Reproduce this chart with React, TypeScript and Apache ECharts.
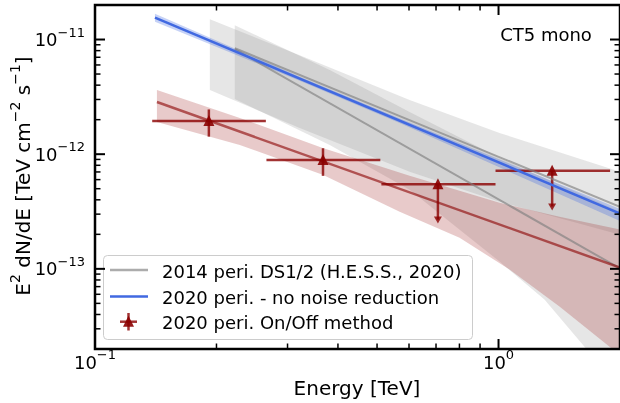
import React, { useEffect, useRef } from "react";
import * as echarts from "echarts";

const FONT = "DejaVu Sans";

// Axis ranges (TeV, TeV cm^-2 s^-1)
const xRange = [0.1, 2.0];
const yRange = [2e-14, 2e-11];

// Tick values
const xMajorTicks = [0.1, 1];
const xMinorTicks = [0.2, 0.3, 0.4, 0.5, 0.6, 0.7, 0.8, 0.9];
const yMajorTicks = [1e-13, 1e-12, 1e-11];
const yMinorTicks = [
  3e-14, 4e-14, 5e-14, 6e-14, 7e-14, 8e-14, 9e-14,
  2e-13, 3e-13, 4e-13, 5e-13, 6e-13, 7e-13, 8e-13, 9e-13,
  2e-12, 3e-12, 4e-12, 5e-12, 6e-12, 7e-12, 8e-12, 9e-12,
];

// Legend / text
const legendLabels = [
  "2014 peri. DS1/2 (H.E.S.S., 2020)",
  "2020 peri. - no noise reduction",
  "2020 peri. On/Off method",
];
const titleText = "CT5 mono";
const xName = "Energy [TeV]";

// 2014 band A (starts ~0.19 TeV)
const bandA_upE = [0.1926, 0.3216, 0.6021, 1.0058, 2.0];
const bandA_upF = [1.5e-11, 7.3e-12, 2.97e-12, 1.532e-12, 7.02e-13];
const bandA_loE = [0.1926, 0.3216, 0.6021, 1.0058, 2.0];
const bandA_loF = [3.62e-12, 1.693e-12, 7.02e-13, 3.85e-13, 1.987e-13];

// 2014 band B (starts ~0.22 TeV)
const bandB_upE = [0.222, 0.3817, 0.6021, 1.0058, 2.0];
const bandB_upF = [1.331e-11, 5.41e-12, 2.334e-12, 9.29e-13, 3.149e-13];
const bandB_loE = [0.222, 0.3817, 0.6021, 1.0058, 1.2997, 1.651, 2.0];
const bandB_loF = [3.03e-12, 1.205e-12, 4.89e-13, 1.157e-13, 5.41e-14, 2.0e-14, 2.0e-14];

// 2014 lines
const ds1E = [0.222, 2.0];
const ds1F = [8.4e-12, 3.48e-13];
const ds2E = [0.222, 2.0];
const ds2F = [8.24e-12, 1.007e-13];

// 2020 no noise reduction
const blueE = [0.1408, 2.0];
const blueF = [1.55e-11, 3.04e-13];
const blueBandE = [0.1408, 0.3216, 0.5689, 2.0];
const blueBandUpF = [1.676e-11, 4.74e-12, 2.048e-12, 3.33e-13];
const blueBandLoF = [1.428e-11, 4.375e-12, 1.872e-12, 2.61e-13];

// 2020 On/Off fit
const redE = [0.1424, 2.0];
const redF = [2.85e-12, 1.026e-13];
const redBand_upE = [0.1424, 0.2285, 0.3667, 0.6021, 1.0058, 1.4158, 2.0];
const redBand_upF = [3.62e-12, 2.07e-12, 1.134e-12, 6.47e-13, 3.77e-13, 2.85e-13, 2.2e-13];
const redBand_loE = [0.1424, 0.2285, 0.3667, 0.5689, 0.8007, 1.0646, 1.4158, 1.915, 2.0];
const redBand_loF = [1.91e-12, 1.205e-12, 6.61e-13, 3.149e-13, 1.87e-13, 9.86e-14, 4.7e-14, 2.0e-14, 2.0e-14];

// 2020 On/Off flux points
const ptE = [0.1915, 0.3673];
const ptElo = [0.1386, 0.266];
const ptEhi = [0.2651, 0.5095];
const ptF = [1.948e-12, 8.91e-13];
const ptFlo = [1.422e-12, 6.47e-13];
const ptFhi = [2.457e-12, 1.127e-12];

// 2020 On/Off upper limits
const ulE = [0.7076, 1.358];
const ulElo = [0.5125, 0.983];
const ulEhi = [0.983, 1.89];
const ulF = [5.48e-13, 7.16e-13];
const ulTip = [2.48e-13, 3.23e-13];

const GRAY_BAND = "rgba(128,128,128,0.2)";
const GRAY_LINE = "rgba(128,128,128,0.65)";
const BLUE = "#4169e1";
const BLUE_BAND = "rgba(65,105,225,0.3)";
const RED_BAND = "rgba(165,42,42,0.25)";
const RED_LINE = "rgba(139,0,0,0.6)";
const ERR = "rgba(139,0,0,0.8)";
const TRI = "rgba(139,0,0,0.9)";

function bandSeries(upE: number[], upF: number[], loE: number[], loF: number[], color: string) {
  return {
    type: "custom",
    silent: true,
    clip: true,
    data: [[upE[0], upF[0]]],
    renderItem: (_params: any, api: any) => {
      const pts: number[][] = [];
      for (let i = 0; i < upE.length; i++) pts.push(api.coord([upE[i], upF[i]]));
      for (let i = loE.length - 1; i >= 0; i--) pts.push(api.coord([loE[i], loF[i]]));
      return { type: "polygon", shape: { points: pts }, style: { fill: color } };
    },
  };
}

function lineSeries(E: number[], F: number[], color: string, width: number) {
  return {
    type: "line",
    silent: true,
    symbol: "none",
    data: E.map((e, i) => [e, F[i]]),
    lineStyle: { color, width },
  };
}

function supLabel(v: number) {
  const e = Math.round(Math.log10(v));
  if (Math.abs(v - Math.pow(10, e)) / v > 1e-6) return "";
  const s = e < 0 ? "\u2212" + String(-e) : String(e);
  return "{b|10}{s|" + s + "}";
}

const tickRich = {
  b: { fontSize: 18, fontFamily: FONT, color: "#000", padding: [5, 0, 5, 0], verticalAlign: "bottom" },
  s: { fontSize: 13, fontFamily: FONT, color: "#000", verticalAlign: "top" },
};

export default function App() {
  const ref = useRef<HTMLDivElement>(null);
  useEffect(() => {
    if (!ref.current) return;
    const chart = echarts.init(ref.current, null, { renderer: "svg" });
    const option: any = {
      animation: false,
      textStyle: { fontFamily: FONT },
      grid: { left: 95, right: -1, top: 5, bottom: 54, containLabel: false },
      xAxis: {
        type: "log",
        logBase: 10,
        min: xRange[0],
        max: xRange[1],
        axisLine: { show: false },
        axisTick: { show: false },
        splitLine: { show: false },
        axisLabel: { formatter: supLabel, rich: tickRich, margin: -1, showMaxLabel: false },
      },
      yAxis: {
        type: "log",
        logBase: 10,
        min: yRange[0],
        max: yRange[1],
        axisLine: { show: false },
        axisTick: { show: false },
        splitLine: { show: false },
        axisLabel: { formatter: supLabel, rich: tickRich, margin: 10 },
      },
      series: [
        bandSeries(bandA_upE, bandA_upF, bandA_loE, bandA_loF, GRAY_BAND),
        bandSeries(bandB_upE, bandB_upF, bandB_loE, bandB_loF, GRAY_BAND),
        lineSeries(ds1E, ds1F, GRAY_LINE, 2),
        lineSeries(ds2E, ds2F, GRAY_LINE, 2),
        bandSeries(blueBandE, blueBandUpF, blueBandE, blueBandLoF, BLUE_BAND),
        lineSeries(blueE, blueF, BLUE, 2.5),
        bandSeries(redBand_upE, redBand_upF, redBand_loE, redBand_loF, RED_BAND),
        lineSeries(redE, redF, RED_LINE, 2.5),
        {
          type: "custom",
          silent: true,
          data: ptE.map((e, i) => [e, ptF[i], ptElo[i], ptEhi[i], ptFlo[i], ptFhi[i]]),
          renderItem: (_p: any, api: any) => {
            const c = api.coord([api.value(0), api.value(1)]);
            const l = api.coord([api.value(2), api.value(1)]);
            const r = api.coord([api.value(3), api.value(1)]);
            const lo = api.coord([api.value(0), api.value(4)]);
            const hi = api.coord([api.value(0), api.value(5)]);
            return {
              type: "group",
              children: [
                { type: "line", shape: { x1: l[0], y1: c[1], x2: r[0], y2: c[1] }, style: { stroke: ERR, lineWidth: 2.5 } },
                { type: "line", shape: { x1: c[0], y1: hi[1], x2: c[0], y2: lo[1] }, style: { stroke: ERR, lineWidth: 2.5 } },
                {
                  type: "polygon",
                  shape: { points: [[c[0], c[1] - 6], [c[0] - 5.5, c[1] + 5], [c[0] + 5.5, c[1] + 5]] },
                  style: { fill: TRI },
                },
              ],
            };
          },
        },
        {
          type: "custom",
          silent: true,
          data: ulE.map((e, i) => [e, ulF[i], ulElo[i], ulEhi[i], ulTip[i]]),
          renderItem: (_p: any, api: any) => {
            const c = api.coord([api.value(0), api.value(1)]);
            const l = api.coord([api.value(2), api.value(1)]);
            const r = api.coord([api.value(3), api.value(1)]);
            const t = api.coord([api.value(0), api.value(4)]);
            return {
              type: "group",
              children: [
                { type: "line", shape: { x1: l[0], y1: c[1], x2: r[0], y2: c[1] }, style: { stroke: ERR, lineWidth: 2.5 } },
                { type: "line", shape: { x1: c[0], y1: c[1], x2: c[0], y2: t[1] - 4 }, style: { stroke: ERR, lineWidth: 2.5 } },
                {
                  type: "polygon",
                  shape: { points: [[t[0] - 4, t[1] - 7], [t[0] + 4, t[1] - 7], [t[0], t[1]]] },
                  style: { fill: ERR },
                },
                {
                  type: "polygon",
                  shape: { points: [[c[0], c[1] - 6], [c[0] - 5.5, c[1] + 5], [c[0] + 5.5, c[1] + 5]] },
                  style: { fill: TRI },
                },
              ],
            };
          },
        },
        {
          type: "custom",
          silent: true,
          z: 10,
          data: [[xRange[0], yRange[0]]],
          renderItem: (params: any, api: any) => {
            const cs = params.coordSys;
            const L = cs.x, T = cs.y, R = cs.x + cs.width, B = cs.y + cs.height;
            const ch: any[] = [];
            const tick = (x1: number, y1: number, x2: number, y2: number, w: number) =>
              ch.push({ type: "line", shape: { x1, y1, x2, y2 }, style: { stroke: "#000", lineWidth: w } });
            xMajorTicks.forEach((v) => {
              const x = api.coord([v, yRange[0]])[0];
              tick(x, B, x, B - 10, 2);
              tick(x, T, x, T + 10, 2);
            });
            xMinorTicks.forEach((v) => {
              const x = api.coord([v, yRange[0]])[0];
              tick(x, B, x, B - 5.5, 1.5);
              tick(x, T, x, T + 5.5, 1.5);
            });
            yMajorTicks.forEach((v) => {
              const y = api.coord([xRange[0], v])[1];
              tick(L, y, L + 10, y, 2);
              tick(R, y, R - 10, y, 2);
            });
            yMinorTicks.forEach((v) => {
              const y = api.coord([xRange[0], v])[1];
              tick(L, y, L + 5.5, y, 1.5);
              tick(R, y, R - 5.5, y, 1.5);
            });
            ch.push({
              type: "rect",
              shape: { x: L, y: T, width: R - L, height: B - T },
              style: { fill: "none", stroke: "#000", lineWidth: 2.5 },
            });
            return { type: "group", children: ch };
          },
        },
      ],
      graphic: {
        elements: [
          {
            type: "text",
            x: 546,
            y: 34,
            z: 20,
            style: { text: titleText, fontSize: 18, fontFamily: FONT, fill: "#000", align: "center", verticalAlign: "middle" },
          },
          {
            type: "text",
            x: 357,
            y: 388,
            z: 20,
            style: { text: xName, fontSize: 20, fontFamily: FONT, fill: "#000", align: "center", verticalAlign: "middle" },
          },
          {
            type: "text",
            x: 20,
            y: 176,
            rotation: Math.PI / 2,
            z: 20,
            style: {
              text: "{n|E}{s|2}{n| dN/dE [TeV cm}{s|\u22122}{n| s}{s|\u22121}{n|]}",
              align: "center",
              verticalAlign: "middle",
              rich: {
                n: { fontSize: 20, fontFamily: FONT, fill: "#000", color: "#000", padding: [5, 0, 0, 0], verticalAlign: "bottom" },
                s: { fontSize: 14, fontFamily: FONT, fill: "#000", color: "#000", verticalAlign: "top" },
              },
            },
          },
          {
            type: "group",
            z: 20,
            children: [
              {
                type: "rect",
                shape: { x: 103.5, y: 255.5, width: 369, height: 84, r: 4 },
                style: { fill: "rgba(255,255,255,0.8)", stroke: "#cccccc", lineWidth: 1 },
              },
              { type: "line", shape: { x1: 110, y1: 270, x2: 148, y2: 270 }, style: { stroke: GRAY_LINE, lineWidth: 2.5 } },
              { type: "line", shape: { x1: 110, y1: 296.5, x2: 148, y2: 296.5 }, style: { stroke: BLUE, lineWidth: 2.5 } },
              { type: "line", shape: { x1: 120, y1: 321.7, x2: 137, y2: 321.7 }, style: { stroke: ERR, lineWidth: 2.5 } },
              { type: "line", shape: { x1: 128.5, y1: 313, x2: 128.5, y2: 330.5 }, style: { stroke: ERR, lineWidth: 2.5 } },
              {
                type: "polygon",
                shape: { points: [[128.5, 315.7], [123, 326.7], [134, 326.7]] },
                style: { fill: TRI },
              },
              ...legendLabels.map((t, i) => ({
                type: "text",
                x: 162,
                y: [271, 297.5, 322.5][i],
                style: { text: t, fontSize: 18, fontFamily: FONT, fill: "#000", align: "left", verticalAlign: "middle" },
              })),
            ],
          },
        ],
      },
    };
    chart.setOption(option);
    return () => chart.dispose();
  }, []);
  return <div ref={ref} style={{ position: "fixed", left: 0, top: 0, width: 620, height: 403 }} />;
}
